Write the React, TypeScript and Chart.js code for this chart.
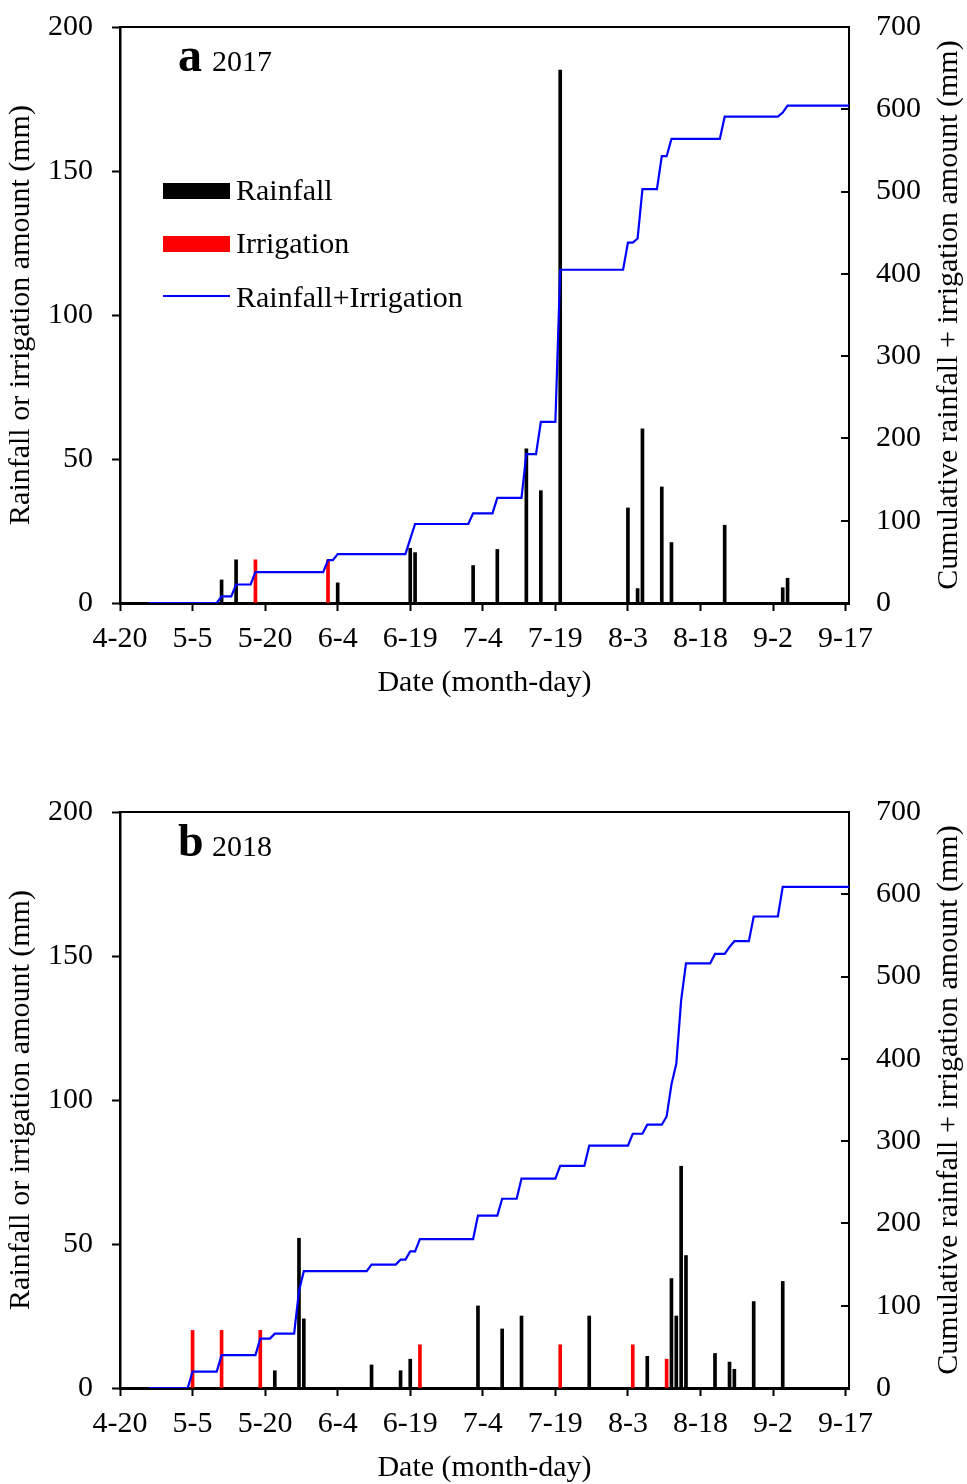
import React, { useEffect, useRef } from "react";
import { Chart, registerables } from "chart.js";

Chart.register(...registerables);

const FONT = "'Liberation Serif', 'Times New Roman', serif";

// ---------- data ----------
const X_TICK_LABELS = ["4-20", "5-5", "5-20", "6-4", "6-19", "7-4", "7-19", "8-3", "8-18", "9-2", "9-17"];

// 2017
const A_RAIN_DATES = ["5-11", "5-14", "6-4", "6-19", "6-20", "7-2", "7-7", "7-13", "7-16", "7-20", "8-3", "8-5", "8-6", "8-10", "8-12", "8-23", "9-4", "9-5"];
const A_RAIN_MM = [8, 15, 7, 19, 17.5, 13, 18.6, 53.5, 39, 185, 33, 5, 60.5, 40.3, 21, 27, 5.3, 8.6];
const A_IRR_DATES = ["5-18", "6-2"];
const A_IRR_MM = [15, 15];
const A_CUM_DATES = ["4-26", "5-10", "5-11", "5-13", "5-14", "5-17", "5-18", "6-1", "6-2", "6-3", "6-4", "6-18", "6-19", "6-20", "7-1", "7-2", "7-6", "7-7", "7-12", "7-13", "7-15", "7-16", "7-19", "7-20", "8-2", "8-3", "8-4", "8-5", "8-6", "8-9", "8-10", "8-11", "8-12", "8-22", "8-23", "9-3", "9-4", "9-5", "9-18"];
const A_CUM_MM = [0, 0, 8, 8, 22.5, 22.5, 37.5, 37.5, 52, 52, 59.5, 59.5, 78, 96, 96, 109, 109, 127.7, 127.7, 181, 181, 220, 220, 405, 405, 438, 438, 443, 503, 503, 543, 543, 564, 564, 591, 591, 596, 604.5, 604.5];

// 2018
const B_RAIN_DATES = ["5-22", "5-27", "5-28", "6-11", "6-17", "6-19", "7-3", "7-8", "7-12", "7-26", "8-7", "8-12", "8-13", "8-14", "8-15", "8-21", "8-24", "8-25", "8-29", "9-4"];
const B_RAIN_MM = [6, 52, 24, 8, 6, 10, 28.5, 20.5, 25, 25, 11, 38, 25, 77, 46, 12, 9, 6.5, 30, 37];
const B_IRR_DATES = ["5-5", "5-11", "5-19", "6-21", "7-20", "8-4", "8-11"];
const B_IRR_MM = [20, 20, 20, 15, 15, 15, 10];
const B_CUM_DATES = ["4-26", "5-4", "5-5", "5-10", "5-11", "5-18", "5-19", "5-21", "5-22", "5-26", "5-27", "5-28", "6-10", "6-11", "6-16", "6-17", "6-18", "6-19", "6-20", "6-21", "7-2", "7-3", "7-7", "7-8", "7-11", "7-12", "7-19", "7-20", "7-25", "7-26", "8-3", "8-4", "8-6", "8-7", "8-10", "8-11", "8-12", "8-13", "8-14", "8-15", "8-20", "8-21", "8-23", "8-24", "8-25", "8-28", "8-29", "9-3", "9-4", "9-18"];
const B_CUM_MM = [0, 0, 20, 20, 40, 40, 60, 60, 66, 66, 118, 142, 142, 150, 150, 156, 156, 166, 166, 181, 181, 209.5, 209.5, 230, 230, 254.5, 254.5, 270, 270, 294.5, 294.5, 309, 309, 320, 320, 330, 369, 394, 471, 516, 516, 527.5, 527.5, 536, 543, 543, 573, 573, 609, 609];

// ---------- helpers ----------
const MONTH_DAYS: Record<number, number> = { 4: 30, 5: 31, 6: 30, 7: 31, 8: 31, 9: 30 };
function dayIndex(md: string): number {
  const [m, d] = md.split("-").map(Number);
  let n = 0;
  for (let mm = 4; mm < m; mm++) n += MONTH_DAYS[mm];
  return n + d - 20; // days since 4-20
}
function pts(dates: string[], vals: number[]) {
  return dates.map((d, i) => ({ x: dayIndex(d), y: vals[i] }));
}

const X_MAX = 150.7;
const CANVAS_W = 967;
const CANVAS_H = 742;

const decorPlugin = {
  id: "decor",
  afterDraw(chart: any, _args: any, opts: any) {
    const { ctx, chartArea } = chart;
    ctx.save();
    ctx.strokeStyle = "#000";
    ctx.lineWidth = 2;
    // top frame line
    ctx.beginPath();
    ctx.moveTo(chartArea.left - 1.25, chartArea.top);
    ctx.lineTo(chartArea.right + 1, chartArea.top);
    ctx.stroke();
    // inward ticks on right axis
    const y2 = chart.scales.y2;
    y2.ticks.forEach((t: any) => {
      const y = Math.round(y2.getPixelForValue(t.value));
      ctx.beginPath();
      ctx.moveTo(y2.left - 8, y);
      ctx.lineTo(y2.left, y);
      ctx.stroke();
    });
    ctx.restore();

    // right axis title (reads bottom to top)
    ctx.save();
    ctx.fillStyle = "#000";
    ctx.font = `30px ${FONT}`;
    ctx.textAlign = "center";
    ctx.textBaseline = "middle";
    ctx.translate(opts.rightTitleX, (chartArea.top + chartArea.bottom) / 2);
    ctx.rotate(-Math.PI / 2);
    ctx.fillText(opts.rightTitle, 0, 0);
    ctx.restore();

    // panel label
    ctx.save();
    ctx.fillStyle = "#000";
    ctx.textAlign = "left";
    ctx.textBaseline = "alphabetic";
    ctx.font = `bold ${opts.letterSize}px ${FONT}`;
    ctx.fillText(opts.letter, 178, 71);
    ctx.font = `30px ${FONT}`;
    ctx.fillText(opts.year, 212, 71);
    ctx.restore();

    // legend
    if (opts.showLegend) {
      const ds = chart.data.datasets;
      const centers = [191, 244, 296];
      const baselines = [200, 252.5, 306.5];
      ctx.save();
      ds.forEach((d: any, i: number) => {
        const cy = centers[i];
        if (d.type === "line") {
          ctx.strokeStyle = d.borderColor;
          ctx.lineWidth = 2;
          ctx.beginPath();
          ctx.moveTo(163, cy);
          ctx.lineTo(230, cy);
          ctx.stroke();
        } else {
          ctx.fillStyle = d.backgroundColor;
          ctx.fillRect(163, cy - 8, 67, 16);
        }
        ctx.fillStyle = "#000";
        ctx.font = `30px ${FONT}`;
        ctx.textAlign = "left";
        ctx.textBaseline = "alphabetic";
        ctx.fillText(d.label, 236, baselines[i]);
      });
      ctx.restore();
    }
  },
};

interface PanelProps {
  top: number;
  letter: string;
  letterSize: number;
  year: string;
  rainDates: string[];
  rainMm: number[];
  irrDates: string[];
  irrMm: number[];
  cumDates: string[];
  cumMm: number[];
  showLegend: boolean;
}

function Panel(p: PanelProps) {
  const ref = useRef<HTMLCanvasElement | null>(null);
  useEffect(() => {
    if (!ref.current) return;
    const tickFont = { family: FONT, size: 30 };
    const chart = new Chart(ref.current, {
      type: "bar",
      data: {
        datasets: [
          {
            type: "bar",
            label: "Rainfall",
            data: pts(p.rainDates, p.rainMm),
            backgroundColor: "#000000",
            borderWidth: 0,
            barThickness: 3,
            grouped: false,
            yAxisID: "y",
            order: 2,
          } as any,
          {
            type: "bar",
            label: "Irrigation",
            data: pts(p.irrDates, p.irrMm),
            backgroundColor: "#FF0000",
            borderWidth: 0,
            barThickness: 3,
            grouped: false,
            yAxisID: "y",
            order: 1,
          } as any,
          {
            type: "line",
            label: "Rainfall+Irrigation",
            data: pts(p.cumDates, p.cumMm),
            borderColor: "#0000FF",
            backgroundColor: "#0000FF",
            borderWidth: 2.2,
            pointRadius: 0,
            tension: 0,
            fill: false,
            yAxisID: "y2",
            order: 0,
          } as any,
        ],
      },
      options: {
        responsive: false,
        animation: false,
        devicePixelRatio: 1,
        events: [],
        layout: { padding: { top: 27, left: 0, right: 0, bottom: 0 } },
        plugins: {
          legend: { display: false },
          tooltip: { enabled: false },
          decor: {
            rightTitle: "Cumulative rainfall + irrigation amount (mm)",
            rightTitleX: 949,
            letter: p.letter,
            letterSize: p.letterSize,
            year: p.year,
            showLegend: p.showLegend,
          },
        } as any,
        scales: {
          x: {
            type: "linear",
            min: 0,
            max: X_MAX,
            offset: false,
            afterBuildTicks: (axis: any) => {
              axis.ticks = X_TICK_LABELS.map((l) => ({ value: dayIndex(l) }));
            },
            afterFit: (s: any) => {
              s.height = CANVAS_H - 603;
              s.paddingLeft = 0;
              s.paddingRight = 0;
            },
            grid: {
              display: true,
              drawOnChartArea: false,
              drawTicks: true,
              tickLength: 8,
              tickWidth: 2,
              tickColor: "#000",
              offset: false,
            },
            border: { display: true, color: "#000", width: 3 },
            ticks: {
              autoSkip: false,
              maxRotation: 0,
              minRotation: 0,
              padding: 10.5,
              color: "#000",
              font: tickFont,
              callback: (_v: any, i: number) => X_TICK_LABELS[i],
            },
            title: {
              display: true,
              text: "Date (month-day)",
              color: "#000",
              font: { family: FONT, size: 30 },
              padding: { top: 0, bottom: 40.5 },
            },
          } as any,
          y: {
            type: "linear",
            position: "left",
            min: 0,
            max: 200,
            afterFit: (s: any) => {
              s.width = 120;
              s.paddingTop = 0;
              s.paddingBottom = 0;
            },
            grid: {
              display: true,
              drawOnChartArea: false,
              drawTicks: true,
              tickLength: 8,
              tickWidth: 2,
              tickColor: "#000",
            },
            border: { display: true, color: "#000", width: 2.5 },
            ticks: { stepSize: 50, padding: 19, color: "#000", font: tickFont },
            title: {
              display: true,
              text: "Rainfall or irrigation amount (mm)",
              color: "#000",
              font: { family: FONT, size: 30 },
              padding: { top: 3, bottom: 0 },
            },
          } as any,
          y2: {
            type: "linear",
            position: "right",
            min: 0,
            max: 700,
            afterFit: (s: any) => {
              s.width = CANVAS_W - 849;
              s.paddingTop = 0;
              s.paddingBottom = 0;
            },
            grid: { display: false, drawOnChartArea: false, drawTicks: false },
            border: { display: true, color: "#000", width: 2 },
            ticks: { stepSize: 100, padding: 27, color: "#000", font: tickFont },
          } as any,
        },
      },
      plugins: [decorPlugin as any],
    });
    return () => chart.destroy();
  }, []);
  return (
    <canvas
      ref={ref}
      width={CANVAS_W}
      height={CANVAS_H}
      style={{ position: "absolute", left: 0, top: p.top, width: CANVAS_W, height: CANVAS_H, display: "block" }}
    />
  );
}

export default function App() {
  return (
    <div
      style={{
        position: "absolute",
        left: 0,
        top: 0,
        width: 967,
        height: 1484,
        overflow: "hidden",
        background: "#fff",
      }}
    >
      <Panel
        top={0}
        letter="a"
        letterSize={48}
        year="2017"
        rainDates={A_RAIN_DATES}
        rainMm={A_RAIN_MM}
        irrDates={A_IRR_DATES}
        irrMm={A_IRR_MM}
        cumDates={A_CUM_DATES}
        cumMm={A_CUM_MM}
        showLegend={true}
      />
      <Panel
        top={785}
        letter="b"
        letterSize={46}
        year="2018"
        rainDates={B_RAIN_DATES}
        rainMm={B_RAIN_MM}
        irrDates={B_IRR_DATES}
        irrMm={B_IRR_MM}
        cumDates={B_CUM_DATES}
        cumMm={B_CUM_MM}
        showLegend={false}
      />
    </div>
  );
}
